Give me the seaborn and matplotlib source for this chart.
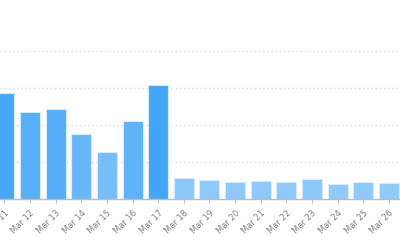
import matplotlib
matplotlib.use("Agg")
import matplotlib.pyplot as plt
import seaborn as sns
import pandas as pd
from matplotlib.colors import LinearSegmentedColormap

dates = ["Mar 11", "Mar 12", "Mar 13", "Mar 14", "Mar 15", "Mar 16", "Mar 17", "Mar 18",
         "Mar 19", "Mar 20", "Mar 21", "Mar 22", "Mar 23", "Mar 24", "Mar 25", "Mar 26"]
values = [286, 235, 243, 176, 127, 211, 308, 58, 51, 47, 49, 47, 53, 40, 45, 44]
yticks = [100, 200, 300, 400]

df = pd.DataFrame({"date": dates, "value": values})

sns.set_theme(style="white")
plt.rcParams['font.family'] = ['DejaVu Sans']

fig = plt.figure(figsize=(4, 2.4), dpi=100)
ax = fig.add_axes([0, 41 / 240, 1, 199 / 240])

cmap = LinearSegmentedColormap.from_list("blues", ["#90CAF9", "#42A5F5"])
sns.barplot(data=df, x="date", y="value", hue="value", palette=cmap,
            hue_norm=(min(values), max(values)), legend=False, width=0.78,
            saturation=1, edgecolor="#d6ecfc", linewidth=0.8, ax=ax, zorder=3)

ax.set_xlim(-0.17, 15.43)
ax.set_ylim(0, 538)
ax.set_yticks(yticks)
ax.set_yticklabels([])
ax.yaxis.grid(True, color="#dddddd", linestyle=(0, (1.2, 1.8)), linewidth=1.0, zorder=0)
ax.tick_params(axis="y", length=0)
for s in ["top", "right", "left"]:
    ax.spines[s].set_visible(False)
ax.spines["bottom"].set_color("#bbbbbb")
ax.spines["bottom"].set_linewidth(1.0)
ax.spines["bottom"].set_zorder(4)
ax.tick_params(axis="x", bottom=True, length=3, width=0.8, color="#bbbbbb",
               labelsize=6, labelcolor="#808080", pad=4)
plt.setp(ax.get_xticklabels(), rotation=45, ha="right", rotation_mode="anchor")
ax.set_xlabel("")
ax.set_ylabel("")

fig.savefig("out.png", dpi=100)
